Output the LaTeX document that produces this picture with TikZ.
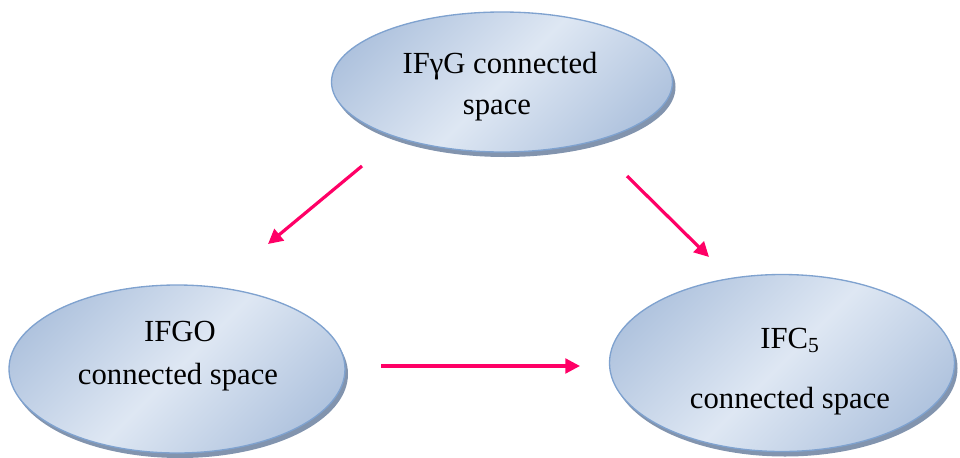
\documentclass[tikz,border=0pt]{standalone}
\usepackage{fontspec}
\setmainfont{Liberation Serif}
\usetikzlibrary{shapes.geometric,arrows.meta}
\definecolor{sdark}{HTML}{A9BEDB}
\definecolor{slight}{HTML}{DEE7F3}
\definecolor{eborder}{HTML}{7FA2CF}
\definecolor{eshadow}{HTML}{8294AE}
\definecolor{arrowpink}{HTML}{FF0066}
\pgfdeclarehorizontalshading{mirrorblue}{100bp}{color(0bp)=(sdark); color(20bp)=(sdark); color(50bp)=(slight); color(80bp)=(sdark); color(100bp)=(sdark)}
\begin{document}
\begin{tikzpicture}[x=0.75pt,y=-0.75pt,
  bubble/.style={ellipse, draw=eborder, line width=1pt, shading=mirrorblue, shading angle=-45, inner sep=0pt},
  bshadow/.style={ellipse, fill=eshadow, inner sep=0pt},
  txt/.style={font=\fontsize{23}{28}\selectfont, align=center, inner sep=0pt},
  link/.style={draw=arrowpink, line width=2.4pt, -{Triangle[length=11pt,width=11pt]}}]
\useasboundingbox (0,0) rectangle (960,457);
% shadows
\node[bshadow, minimum width=341*0.75pt, minimum height=140*0.75pt] at (505,87) {};
\node[bshadow, minimum width=336*0.75pt, minimum height=168*0.75pt] at (180,374) {};
\node[bshadow, minimum width=345*0.75pt, minimum height=177*0.75pt] at (785,368) {};
% ellipses
\node[bubble, minimum width=341*0.75pt, minimum height=140*0.75pt] (top) at (502,82) {};
\node[bubble, minimum width=336*0.75pt, minimum height=168*0.75pt] (left) at (177,369) {};
\node[bubble, minimum width=345*0.75pt, minimum height=177*0.75pt] (right) at (782,363) {};
% texts
\node[txt, anchor=base] (toptxt1) at (500,73) {IFγG connected};
\node[txt, anchor=base] (toptxt2) at (497,114) {space};
\node[txt, anchor=base] (lefttxt1) at (180,341) {IFGO};
\node[txt, anchor=base] (lefttxt2) at (178,384) {connected space};
\node[txt, anchor=base] (righttxt1) at (790,348) {IFC\textsubscript{5}};
\node[txt, anchor=base] (righttxt2) at (790,408) {connected space};
% arrow ends
\coordinate (a1s) at (362,166);
\coordinate (a1e) at (268,244);
\coordinate (a2s) at (627,176);
\coordinate (a2e) at (709,257);
\coordinate (a3s) at (381,366);
\coordinate (a3e) at (580,366);
\draw[link] (a1s) -- (a1e);
\draw[link] (a2s) -- (a2e);
\draw[link] (a3s) -- (a3e);
\end{tikzpicture}
\end{document}
